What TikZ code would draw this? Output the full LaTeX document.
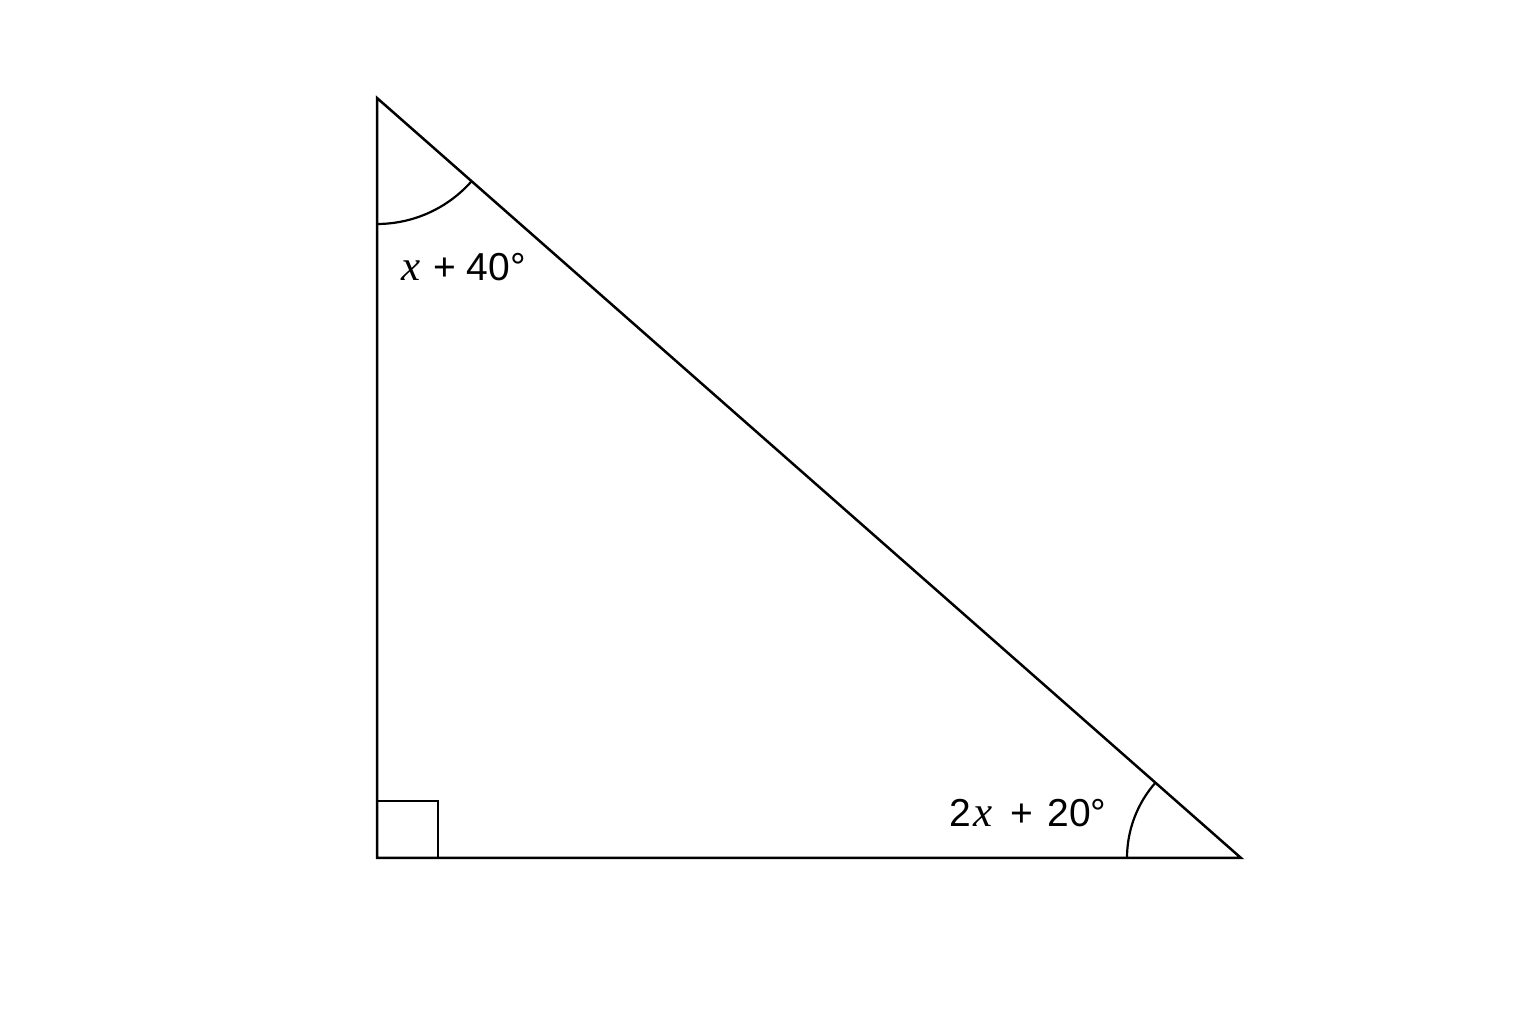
\documentclass[tikz,border=0pt]{standalone}
\usepackage{fontspec}
\setmainfont{Liberation Sans}
\newfontfamily\varfont{Liberation Serif}
\newcommand{\vx}{{\varfont\itshape\fontsize{43}{45}\selectfont x}}
\begin{document}
\begin{tikzpicture}[x=1pt,y=1pt,
  edge/.style={line width=2.5pt,line join=miter},
  anglearc/.style={line width=2.2pt},
  rightmark/.style={line width=1.8pt},
  lbl/.style={anchor=base west,inner sep=0pt,font=\fontsize{39}{45}\selectfont}]
\useasboundingbox (0,0) rectangle (1536,1024);
\coordinate (A) at (377,926);
\coordinate (B) at (377,166);
\coordinate (C) at (1241,166);
\draw[edge] (A) -- (B) -- (C) -- cycle;
\draw[rightmark] (377,223) -- (438,223) -- (438,166);
\draw[anglearc] ([shift={(270:126)}]A) arc[start angle=270,end angle=318.7,radius=126];
\draw[anglearc] ([shift={(180:114)}]C) arc[start angle=180,end angle=138.7,radius=114];
\node[lbl] (la) at (401,743) {\vx\hspace{2pt} + 40°};
\node[lbl] (lb) at (949,197) {2\hspace{3pt}\vx\hspace{7pt} + \hspace{3pt}20°};
\end{tikzpicture}
\end{document}
